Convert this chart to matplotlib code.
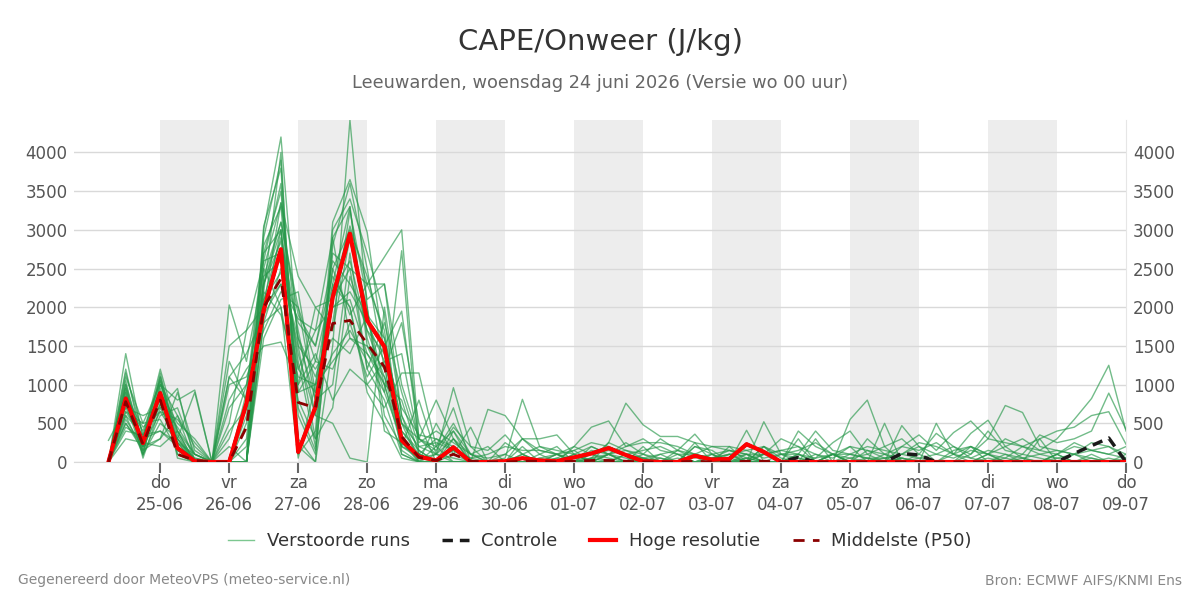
import matplotlib
matplotlib.use("Agg")
import matplotlib.pyplot as plt
from matplotlib.lines import Line2D
import numpy as np
import pandas as pd

# 6-hourly steps, 24-06 06 UTC .. 09-07 00 UTC (60 steps)
times = pd.date_range("2026-06-24 06:00", "2026-07-09 00:00", freq="6h")

day_ticks = pd.date_range("2026-06-25", "2026-07-09", freq="D")
day_names = ["do", "vr", "za", "zo", "ma", "di", "wo", "do", "vr", "za", "zo", "ma", "di", "wo", "do"]
day_dates = ["25-06", "26-06", "27-06", "28-06", "29-06", "30-06", "01-07", "02-07",
             "03-07", "04-07", "05-07", "06-07", "07-07", "08-07", "09-07"]
shaded_days = ["2026-06-25", "2026-06-27", "2026-06-29", "2026-07-01",
               "2026-07-03", "2026-07-05", "2026-07-07"]

y_ticks = [0, 500, 1000, 1500, 2000, 2500, 3000, 3500, 4000]

hres = [0, 820, 245, 890, 180, 10, 0, 0, 760, 1960, 2750, 130, 710, 2130, 2950,
        1830, 1490, 280, 70, 20, 190, 0, 0, 10, 50, 20, 10, 60, 110, 180,
        90, 10, 0, 0, 80, 30, 40, 230, 130, 0, 0, 0, 0, 0, 0,
        0, 0, 0, 0, 0, 0, 0, 0, 0, 0, 0, 0, 0, 0, 0]

control = [0, 820, 245, 890, 180, 10, 0, 0, 760, 1960, 2750, 130, 710, 2130, 2950,
           1830, 1490, 280, 70, 20, 190, 0, 0, 10, 50, 20, 10, 60, 110, 180,
           90, 10, 0, 0, 80, 30, 40, 230, 130, 0, 60, 0, 0, 0, 0,
           0, 110, 90, 0, 0, 0, 0, 0, 0, 0, 0, 110, 210, 310, 0]

p50 = [0, 780, 230, 800, 100, 20, 0, 0, 450, 2000, 2370, 770, 700, 1790, 1830,
       1530, 1230, 330, 60, 20, 100, 10, 0, 0, 10, 10, 0, 10, 20, 20,
       10, 0, 0, 0, 10, 0, 0, 10, 10, 0, 0, 0, 0, 0, 0,
       0, 0, 0, 0, 0, 0, 0, 0, 0, 0, 0, 0, 0, 0, 0]

members = [
    [0, 1400, 300, 1200, 400, 100, 0, 0, 0, 3000, 4200, 1500, 300, 2800, 3600,
     2500, 1200, 400, 100, 20, 150, 0, 0, 0, 0, 0, 0, 50, 100, 200,
     100, 0, 0, 50, 0, 0, 100, 0, 200, 50, 0, 0, 100, 0, 300,
     100, 50, 0, 0, 150, 200, 100, 0, 50, 0, 100, 0, 50, 0, 0],
    [0, 1100, 500, 1000, 800, 930, 0, 2030, 1300, 2500, 3350, 2400, 2000, 2100, 2500,
     2300, 2650, 3000, 300, 100, 50, 0, 680, 600, 300, 300, 350, 100, 0, 250,
     760, 480, 330, 330, 250, 200, 150, 100, 0, 100, 50, 0, 100, 200, 0,
     0, 200, 350, 150, 380, 530, 300, 250, 200, 300, 400, 450, 600, 650, 230],
    [0, 900, 200, 1150, 200, 50, 0, 0, 0, 2200, 4000, 200, 0, 1500, 4420,
     2000, 600, 200, 50, 0, 300, 0, 0, 0, 100, 0, 100, 0, 150, 100,
     0, 50, 0, 0, 0, 100, 0, 50, 0, 0, 400, 200, 100, 0, 0,
     0, 50, 0, 0, 0, 0, 100, 50, 200, 150, 300, 550, 820, 1250, 400],
    [280, 700, 600, 700, 950, 0, 0, 1500, 1700, 2000, 2300, 1850, 1700, 2900, 3300,
     1500, 1000, 200, 800, 100, 960, 200, 0, 50, 810, 200, 100, 0, 50, 100,
     200, 300, 150, 100, 0, 50, 100, 0, 520, 100, 0, 50, 250, 400, 100,
     0, 50, 0, 500, 100, 50, 0, 0, 100, 50, 0, 100, 0, 50, 0],
    [0, 600, 100, 500, 300, 900, 0, 1300, 800, 2700, 3000, 900, 1000, 2000, 2200,
     1800, 1300, 400, 150, 0, 100, 450, 0, 0, 0, 0, 0, 0, 0, 0,
     100, 50, 0, 0, 250, 0, 0, 410, 0, 0, 0, 0, 0, 550, 800,
     200, 0, 0, 0, 0, 200, 0, 0, 0, 300, 0, 0, 0, 0, 0],
    [0, 800, 250, 900, 100, 0, 0, 0, 0, 3050, 3800, 100, 400, 3100, 3650,
     2970, 1400, 100, 0, 0, 0, 0, 0, 0, 0, 50, 0, 100, 0, 0,
     0, 0, 100, 0, 0, 0, 0, 0, 0, 0, 0, 0, 0, 0, 0,
     0, 0, 0, 0, 0, 0, 0, 0, 0, 0, 0, 0, 0, 0, 0],
    [0, 500, 150, 300, 600, 200, 0, 1000, 1100, 1700, 2200, 2000, 1300, 1200, 1800,
     1100, 1500, 1950, 300, 150, 500, 100, 200, 0, 300, 100, 200, 0, 0, 100,
     250, 100, 0, 150, 360, 100, 0, 0, 100, 300, 200, 0, 100, 0, 150,
     50, 100, 250, 200, 100, 370, 540, 200, 50, 0, 100, 250, 150, 100, 50],
    [0, 1000, 80, 1100, 50, 0, 0, 0, 900, 2800, 3300, 700, 150, 2200, 3050,
     2300, 1700, 200, 100, 300, 200, 0, 0, 0, 50, 0, 0, 0, 50, 0,
     0, 0, 0, 0, 0, 0, 50, 0, 0, 0, 100, 0, 0, 0, 0,
     0, 0, 100, 0, 0, 0, 0, 0, 0, 0, 100, 0, 0, 0, 0],
    [0, 400, 350, 400, 250, 100, 0, 800, 1200, 1500, 1550, 1000, 1400, 800, 1200,
     1000, 700, 1150, 1150, 200, 700, 0, 0, 0, 0, 50, 100, 0, 0, 100,
     0, 200, 0, 0, 200, 150, 0, 50, 0, 0, 300, 0, 100, 0, 50,
     0, 470, 200, 0, 0, 100, 300, 730, 640, 200, 150, 100, 50, 0, 100],
    [0, 300, 250, 200, 400, 0, 0, 500, 1700, 2600, 2700, 1400, 600, 500, 50,
     0, 2000, 600, 0, 500, 100, 0, 0, 100, 0, 0, 0, 0, 0, 0,
     0, 0, 0, 0, 0, 0, 0, 0, 0, 0, 0, 0, 0, 0, 0,
     0, 0, 0, 0, 0, 0, 0, 0, 0, 0, 0, 0, 0, 0, 0],
    [0, 950, 200, 300, 900, 150, 0, 200, 0, 1800, 2000, 50, 1000, 2500, 1900,
     2300, 2300, 1000, 300, 800, 300, 0, 0, 0, 0, 0, 0, 200, 100, 0,
     0, 0, 0, 0, 0, 0, 0, 100, 0, 0, 0, 0, 0, 0, 0,
     500, 0, 0, 0, 0, 0, 0, 0, 0, 0, 0, 0, 0, 0, 0],
    [0, 800, 400, 1050, 300, 50, 0, 0, 200, 2400, 2600, 1800, 1500, 2400, 2000,
     900, 500, 50, 0, 0, 0, 0, 0, 0, 200, 0, 0, 0, 0, 0,
     0, 0, 0, 0, 0, 0, 0, 0, 0, 0, 0, 0, 0, 0, 0,
     0, 0, 0, 0, 0, 0, 0, 0, 0, 0, 0, 0, 0, 0, 0],
    [0, 750, 100, 600, 700, 100, 0, 0, 0, 1900, 3000, 1000, 2000, 1700, 2900,
     2000, 400, 250, 0, 100, 0, 0, 0, 0, 0, 0, 50, 150, 0, 0,
     100, 0, 50, 0, 0, 0, 0, 0, 0, 0, 50, 0, 0, 100, 50,
     0, 0, 0, 0, 0, 0, 50, 0, 0, 0, 0, 0, 0, 0, 0],
    [0, 650, 300, 800, 200, 0, 0, 300, 1000, 2300, 2850, 1300, 200, 2900, 1600,
     1500, 1200, 1800, 500, 0, 0, 0, 0, 0, 0, 0, 0, 0, 50, 250,
     150, 50, 0, 0, 200, 100, 0, 0, 0, 0, 0, 0, 0, 0, 0,
     0, 0, 0, 0, 0, 0, 0, 0, 0, 0, 0, 0, 0, 0, 0],
    [0, 1200, 200, 850, 100, 0, 0, 0, 600, 2100, 2450, 1600, 800, 1000, 2700,
     1200, 800, 100, 0, 0, 400, 0, 0, 0, 0, 0, 0, 0, 0, 0,
     0, 0, 0, 0, 0, 0, 0, 0, 0, 0, 0, 0, 0, 0, 0,
     0, 0, 0, 0, 0, 0, 0, 0, 0, 0, 0, 0, 0, 0, 0],
    [0, 550, 200, 1000, 400, 0, 0, 700, 1000, 2000, 3350, 1600, 1100, 1800, 3250,
     2100, 2300, 600, 150, 0, 0, 0, 0, 0, 0, 100, 0, 0, 200, 100,
     0, 0, 0, 100, 0, 0, 200, 0, 100, 0, 0, 300, 0, 0, 0,
     100, 0, 0, 0, 0, 0, 0, 100, 0, 0, 0, 0, 0, 0, 0],
    [0, 900, 50, 700, 300, 0, 0, 0, 0, 1600, 2100, 2200, 900, 1400, 1700,
     1300, 900, 2730, 100, 0, 0, 0, 0, 0, 0, 0, 0, 0, 0, 0,
     0, 0, 0, 0, 0, 0, 0, 0, 0, 0, 0, 0, 0, 0, 0,
     0, 0, 0, 0, 0, 0, 0, 0, 0, 0, 0, 0, 0, 0, 0],
    [0, 450, 300, 400, 200, 0, 0, 1100, 800, 2500, 2000, 800, 300, 700, 2400,
     1700, 1100, 300, 0, 0, 0, 0, 0, 0, 0, 0, 0, 0, 0, 0,
     0, 0, 0, 0, 0, 0, 0, 0, 0, 0, 0, 0, 0, 0, 0,
     0, 0, 0, 0, 0, 0, 0, 0, 0, 0, 0, 0, 0, 0, 0],
    [0, 1050, 150, 950, 250, 0, 0, 0, 300, 2600, 3600, 600, 100, 2300, 3300,
     1600, 900, 300, 50, 100, 450, 200, 150, 350, 100, 0, 100, 200, 450, 530,
     200, 250, 250, 200, 100, 200, 200, 150, 200, 100, 150, 250, 100, 50, 100,
     200, 300, 100, 370, 200, 100, 400, 150, 100, 350, 250, 300, 400, 890, 420],
    [0, 850, 450, 650, 550, 250, 0, 0, 0, 2900, 3900, 300, 0, 3000, 3400,
     2700, 1900, 150, 0, 200, 0, 0, 0, 0, 0, 0, 0, 100, 0, 0,
     0, 0, 0, 0, 0, 0, 0, 0, 0, 0, 0, 0, 0, 0, 0,
     0, 0, 0, 0, 0, 0, 0, 0, 0, 0, 0, 0, 0, 0, 0],
    [0, 700, 250, 750, 150, 0, 0, 1100, 1400, 1900, 2300, 1200, 900, 2200, 2600,
     1700, 1400, 700, 350, 300, 150, 50, 100, 200, 150, 150, 100, 50, 100, 150,
     100, 150, 200, 100, 100, 50, 100, 150, 50, 100, 100, 400, 150, 100, 200,
     150, 100, 200, 100, 50, 150, 100, 200, 300, 150, 100, 200, 150, 100, 200],
    [0, 600, 350, 900, 500, 300, 0, 0, 0, 2400, 3100, 1900, 1500, 2600, 2300,
     1900, 1600, 500, 200, 250, 150, 50, 0, 250, 100, 200, 150, 100, 200, 100,
     150, 100, 300, 150, 100, 50, 150, 100, 100, 150, 200, 100, 50, 200, 150,
     100, 200, 150, 250, 100, 200, 100, 300, 200, 100, 150, 100, 250, 200, 100],
    [0, 1000, 250, 1100, 350, 0, 0, 0, 500, 2300, 3000, 1200, 1700, 2000, 2100,
     1400, 1000, 300, 100, 0, 200, 0, 0, 0, 0, 0, 50, 0, 100, 50,
     0, 100, 50, 0, 100, 0, 50, 100, 0, 0, 100, 0, 0, 50, 0,
     0, 0, 50, 0, 100, 0, 0, 50, 0, 0, 50, 0, 100, 0, 50],
    [0, 850, 150, 750, 450, 100, 0, 0, 0, 2100, 2900, 1700, 600, 2700, 2500,
     1200, 1800, 900, 200, 100, 300, 100, 0, 0, 0, 0, 0, 0, 0, 100,
     50, 0, 0, 0, 0, 50, 0, 0, 200, 0, 0, 100, 0, 0, 0,
     50, 0, 0, 0, 0, 0, 100, 0, 0, 0, 0, 0, 0, 0, 0],
    [0, 1150, 350, 1050, 250, 0, 0, 0, 0, 2700, 3500, 900, 1300, 2300, 2000,
     1000, 1300, 1400, 250, 400, 250, 100, 0, 0, 100, 0, 0, 0, 0, 0,
     0, 0, 0, 0, 0, 0, 0, 0, 0, 0, 0, 0, 0, 0, 0,
     0, 0, 0, 0, 0, 0, 0, 0, 0, 0, 0, 0, 0, 0, 0],
    [0, 650, 500, 550, 150, 0, 0, 0, 0, 1800, 2500, 1500, 1200, 1600, 1400,
     1900, 1000, 800, 100, 0, 0, 0, 0, 0, 0, 0, 0, 0, 0, 0,
     0, 0, 0, 0, 0, 0, 0, 0, 0, 0, 0, 0, 0, 0, 0,
     0, 0, 0, 0, 0, 0, 0, 0, 0, 0, 0, 0, 0, 0, 0],
    [0, 950, 100, 1000, 600, 0, 0, 0, 0, 2300, 3100, 2000, 800, 2500, 3000,
     2400, 1600, 500, 300, 200, 400, 100, 50, 100, 300, 150, 100, 150, 250, 200,
     100, 50, 100, 150, 50, 100, 150, 50, 100, 150, 100, 50, 100, 100, 50,
     50, 100, 50, 100, 200, 50, 150, 100, 50, 100, 50, 100, 150, 200, 50],
    [0, 500, 200, 650, 300, 0, 0, 400, 700, 2200, 1900, 1100, 1000, 1300, 1600,
     1400, 1100, 500, 0, 0, 0, 0, 0, 0, 0, 0, 0, 0, 0, 0,
     0, 0, 0, 0, 0, 0, 0, 0, 0, 0, 0, 0, 0, 0, 0,
     0, 0, 0, 0, 0, 0, 0, 0, 0, 0, 0, 0, 0, 0, 0],
]

plt.rcParams['font.family'] = ['DejaVu Sans']

fig = plt.figure(figsize=(12, 6), dpi=100)
ax = fig.add_axes([74 / 1200, 138 / 600, 1052 / 1200, 342 / 600])

for d in shaded_days:
    start = pd.Timestamp(d)
    ax.axvspan(start, start + pd.Timedelta(days=1), color='#ededed', lw=0, zorder=0)

for m in members:
    ax.plot(times, m, color='#27984a', lw=1.0, alpha=0.65, zorder=2)
ax.plot(times, control, color='#1a1a1a', lw=2.5, ls=(0, (3, 2)), zorder=3)
ax.plot(times, hres, color='#ff0000', lw=3, zorder=4)
ax.plot(times, p50, color='#8b0000', lw=2, ls=(0, (4, 3)), zorder=5)

ax.set_xlim(pd.Timestamp("2026-06-23 18:00"), pd.Timestamp("2026-07-09 00:00"))
ax.set_ylim(0, 4420)
ax.set_yticks(y_ticks)
ax.set_yticklabels([str(v) for v in y_ticks])
ax.yaxis.grid(True, color='#d9d9d9', lw=1, zorder=1)
ax.set_axisbelow(True)
ax.tick_params(axis='y', length=0, pad=4.5, labelsize=12, labelcolor='#555555')

ax.set_xticks(day_ticks)
ax.set_xticklabels([f"{n}\n{d}" for n, d in zip(day_names, day_dates)], linespacing=1.3)
ax.tick_params(axis='x', length=8, width=1.5, color='#666666', pad=0.5,
               labelsize=12, labelcolor='#555555')

for s in ['top', 'left']:
    ax.spines[s].set_visible(False)
ax.spines['bottom'].set_color('#d9d9d9')
ax.spines['right'].set_color('#e6e6e6')

ax2 = ax.twinx()
ax2.set_ylim(ax.get_ylim())
ax2.set_yticks(y_ticks)
ax2.set_yticklabels([str(v) for v in y_ticks])
ax2.tick_params(axis='y', length=0, pad=5, labelsize=12, labelcolor='#555555')
for s in ax2.spines.values():
    s.set_visible(False)

fig.text(0.5, 1 - 42 / 600, "CAPE/Onweer (J/kg)", ha='center', va='center',
         fontsize=21, color='#333333')
fig.text(0.5, 1 - 83 / 600, "Leeuwarden, woensdag 24 juni 2026 (Versie wo 00 uur)",
         ha='center', va='center', fontsize=12.75, color='#666666')

handles = [
    Line2D([], [], color='#7cc790', lw=1),
    Line2D([], [], color='#1a1a1a', lw=2.5, ls=(0, (3, 2))),
    Line2D([], [], color='#ff0000', lw=3),
    Line2D([], [], color='#8b0000', lw=2, ls=(0, (4, 3))),
]
labels = ["Verstoorde runs", "Controle", "Hoge resolutie", "Middelste (P50)"]
fig.legend(handles, labels, loc='center', bbox_to_anchor=(0.5, 1 - 541 / 600), ncol=4,
           frameon=False, fontsize=13, handlelength=1.45, handletextpad=0.7,
           columnspacing=1.8, labelcolor='#333333')

fig.text(18 / 1200, 1 - 580 / 600, "Gegenereerd door MeteoVPS (meteo-service.nl)",
         ha='left', va='center', fontsize=10, color='#888888')
fig.text(1182 / 1200, 1 - 580 / 600, "Bron: ECMWF AIFS/KNMI Ens",
         ha='right', va='center', fontsize=10, color='#888888')

fig.savefig("out.png", dpi=100)
